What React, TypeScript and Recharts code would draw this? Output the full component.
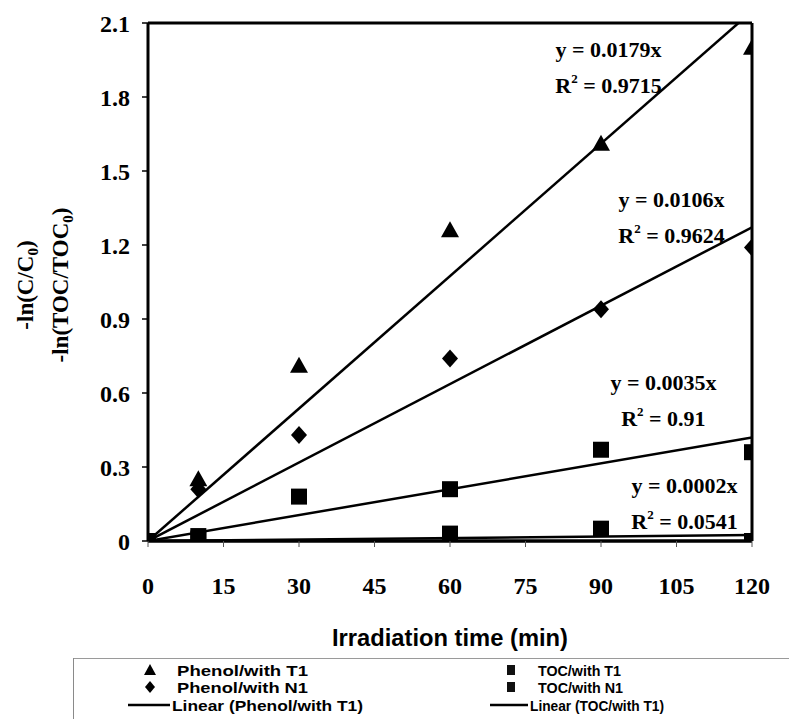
import { Legend, ReferenceDot, ReferenceLine, Scatter, ScatterChart, XAxis, YAxis } from "recharts";

const times = [0, 10, 30, 60, 90, 120];
const phenolT1 = [0, 0.25, 0.71, 1.26, 1.61, 2.0];
const phenolN1 = [0, 0.21, 0.43, 0.74, 0.94, 1.19];
const tocT1 = [0, 0.02, 0.18, 0.21, 0.37, 0.36];
const tocN1 = [0, 0.01, null, 0.03, 0.05, 0];

// fitted slopes (y = kx) and R² for each series, same order as above
const slopes = [0.0179, 0.0106, 0.0035, 0.0002];
const rSquared = ["0.9715", "0.9624", "0.91", "0.0541"];

const xTicks = [0, 15, 30, 45, 60, 75, 90, 105, 120];
const yTicks = [0, 0.3, 0.6, 0.9, 1.2, 1.5, 1.8, 2.1];
const yTickLabels = ["0", "0.3", "0.6", "0.9", "1.2", "1.5", "1.8", "2.1"];

const legendNames = [
  "Phenol/with T1",
  "Phenol/with N1",
  "Linear (Phenol/with T1)",
  "TOC/with T1",
  "TOC/with N1",
  "Linear (TOC/with T1)"
];
const legendKinds = ["tri", "dia", "line", "sq", "sq", "line"];

const SERIF = "'Liberation Serif', 'Times New Roman', serif";
const SANS = "'Liberation Sans', Arial, sans-serif";
const X_MAX = 120;

// where each equation label sits (data coords: centre x, first baseline y)
const annotationSpots = [
  { x: 91.5, y: 1.962 },
  { x: 104, y: 1.354 },
  { x: 102.4, y: 0.612 },
  { x: 106.6, y: 0.195 }
];

const toPoints = (ys: (number | null)[]) =>
  times.map((x, i) => ({ x, y: ys[i] })).filter((p) => p.y !== null);

const Triangle = ({ cx, cy }: any) => (
  <polygon points={`${cx},${cy - 9} ${cx + 9},${cy + 7} ${cx - 9},${cy + 7}`} fill="#000" />
);
const Diamond = ({ cx, cy }: any) => (
  <polygon points={`${cx},${cy - 9} ${cx + 8},${cy} ${cx},${cy + 9} ${cx - 8},${cy}`} fill="#000" />
);
const Square = ({ cx, cy }: any) => <rect x={cx - 8} y={cy - 8} width={16} height={16} fill="#000" />;

function Equation({ cx, cy, slope, r2 }: any) {
  return (
    <g fontFamily={SERIF} fontWeight="bold" fontSize={22} fill="#000" textAnchor="middle">
      <text x={cx} y={cy}>{`y = ${slope}x`}</text>
      <text x={cx} y={cy + 36}>
        R<tspan fontSize={13} dy={-10}>2</tspan>
        <tspan dy={10}>{` = ${r2}`}</tspan>
      </text>
    </g>
  );
}

function YLabel() {
  return (
    <g fontFamily={SERIF} fontWeight="bold" fontSize={23} fill="#000" textAnchor="middle">
      <text x={17} y={277} transform="rotate(-90 17 277)" dy={8}>
        -ln(C/C<tspan fontSize={15} dy={5}>0</tspan>
        <tspan dy={-5}>)</tspan>
      </text>
      <text x={52} y={277} transform="rotate(-90 52 277)" dy={8}>
        -ln(TOC/TOC<tspan fontSize={15} dy={5}>0</tspan>
        <tspan dy={-5}>)</tspan>
      </text>
    </g>
  );
}

function XLabel({ viewBox }: any) {
  const { x, width } = viewBox;
  return (
    <text
      x={x + width / 2}
      y={638}
      textAnchor="middle"
      fontFamily={SANS}
      fontWeight="bold"
      fontSize={24}
      textLength={236}
      lengthAdjust="spacingAndGlyphs"
      fill="#000"
    >
      Irradiation time (min)
    </text>
  );
}

function LegendBox() {
  const rows = [12, 29, 47];
  const cols = [
    { icon: 77, text: 104, line: [55, 97], lineText: 99, widths: [131, 131, 191] },
    { icon: 438, text: 465, line: [417, 455], lineText: 457, widths: [83, 85, 134] }
  ];
  return (
    <svg width={716} height={61} style={{ display: "block" }}>
      <line x1={0} y1={0.5} x2={716} y2={0.5} stroke="#9a9a9a" strokeWidth={1.2} />
      <line x1={0.5} y1={0} x2={0.5} y2={61} stroke="#8a8a8a" strokeWidth={1} />
      {legendNames.map((name, i) => {
        const col = cols[Math.floor(i / 3)];
        const r = i % 3;
        const cy = rows[r];
        const kind = legendKinds[i];
        const cx = col.icon;
        return (
          <g key={name}>
            {kind === "tri" && <polygon points={`${cx},${cy - 6} ${cx + 6},${cy + 5} ${cx - 6},${cy + 5}`} fill="#000" />}
            {kind === "dia" && <polygon points={`${cx},${cy - 6} ${cx + 5},${cy} ${cx},${cy + 6} ${cx - 5},${cy}`} fill="#000" />}
            {kind === "sq" && <rect x={cx - 4} y={cy - 5} width={8} height={10} fill="#111" />}
            {kind === "line" && <line x1={col.line[0]} y1={cy} x2={col.line[1]} y2={cy} stroke="#000" strokeWidth={2.5} />}
            <text
              x={kind === "line" ? col.lineText : col.text}
              y={cy + 5.5}
              fontFamily={SANS}
              fontWeight="bold"
              fontSize={15}
              textLength={col.widths[r]}
              lengthAdjust="spacingAndGlyphs"
              fill="#000"
            >
              {name}
            </text>
          </g>
        );
      })}
    </svg>
  );
}

export default function App() {
  return (
    <div style={{ width: 781, height: 711, background: "#fff" }}>
      <ScatterChart
        width={781}
        height={711}
        margin={{ top: 15, right: 37, bottom: 0, left: 0 }}
        style={{ fontFamily: SERIF }}
      >
        <XAxis
          type="number"
          dataKey="x"
          domain={[0, X_MAX]}
          ticks={xTicks}
          interval={0}
          allowDataOverflow
          height={117}
          axisLine={{ stroke: "#000", strokeWidth: 3.5 }}
          tickLine={{ stroke: "#555", strokeWidth: 1 }}
          tickSize={6}
          tickMargin={30}
          tick={{ fill: "#000", fontSize: 24, fontWeight: "bold", fontFamily: SERIF, style: { fontFamily: SERIF } }}
          label={{ content: XLabel }}
        />
        <YAxis
          type="number"
          dataKey="y"
          domain={[0, 2.1]}
          ticks={yTicks}
          interval={0}
          allowDataOverflow
          width={140}
          axisLine={{ stroke: "#000", strokeWidth: 3 }}
          tickLine={{ stroke: "#000", strokeWidth: 1.5 }}
          tickSize={6}
          tickMargin={12}
          tickFormatter={(v: number) => yTickLabels[yTicks.indexOf(v)] ?? String(v)}
          tick={{ fill: "#000", fontSize: 24, fontWeight: "bold", fontFamily: SERIF, style: { fontFamily: SERIF } }}
          label={{ content: YLabel }}
        />
        <ReferenceLine y={2.1} stroke="#000" strokeWidth={3} ifOverflow="extendDomain" />
        <ReferenceLine x={X_MAX} stroke="#000" strokeWidth={3} ifOverflow="extendDomain" />
        {slopes.map((k, i) => (
          <ReferenceLine
            key={`trend-${i}`}
            segment={[
              { x: 0, y: 0 },
              { x: X_MAX, y: k * X_MAX }
            ]}
            stroke="#000"
            strokeWidth={2.5}
            ifOverflow="hidden"
          />
        ))}
        <Scatter name="Phenol/with T1" data={toPoints(phenolT1)} shape={Triangle} isAnimationActive={false} />
        <Scatter name="Phenol/with N1" data={toPoints(phenolN1)} shape={Diamond} isAnimationActive={false} />
        <Scatter name="TOC/with N1" data={toPoints(tocN1)} shape={Square} isAnimationActive={false} />
        <Scatter name="TOC/with T1" data={toPoints(tocT1)} shape={Square} isAnimationActive={false} />
        {annotationSpots.map((p, i) => (
          <ReferenceDot
            key={`eq-${i}`}
            x={p.x}
            y={p.y}
            r={0}
            shape={(props: any) => <Equation cx={props.cx} cy={props.cy} slope={slopes[i]} r2={rSquared[i]} />}
          />
        ))}
        <Legend
          verticalAlign="bottom"
          content={() => <LegendBox />}
          wrapperStyle={{ left: 65, bottom: 0, width: 716, height: 61 }}
        />
      </ScatterChart>
    </div>
  );
}
